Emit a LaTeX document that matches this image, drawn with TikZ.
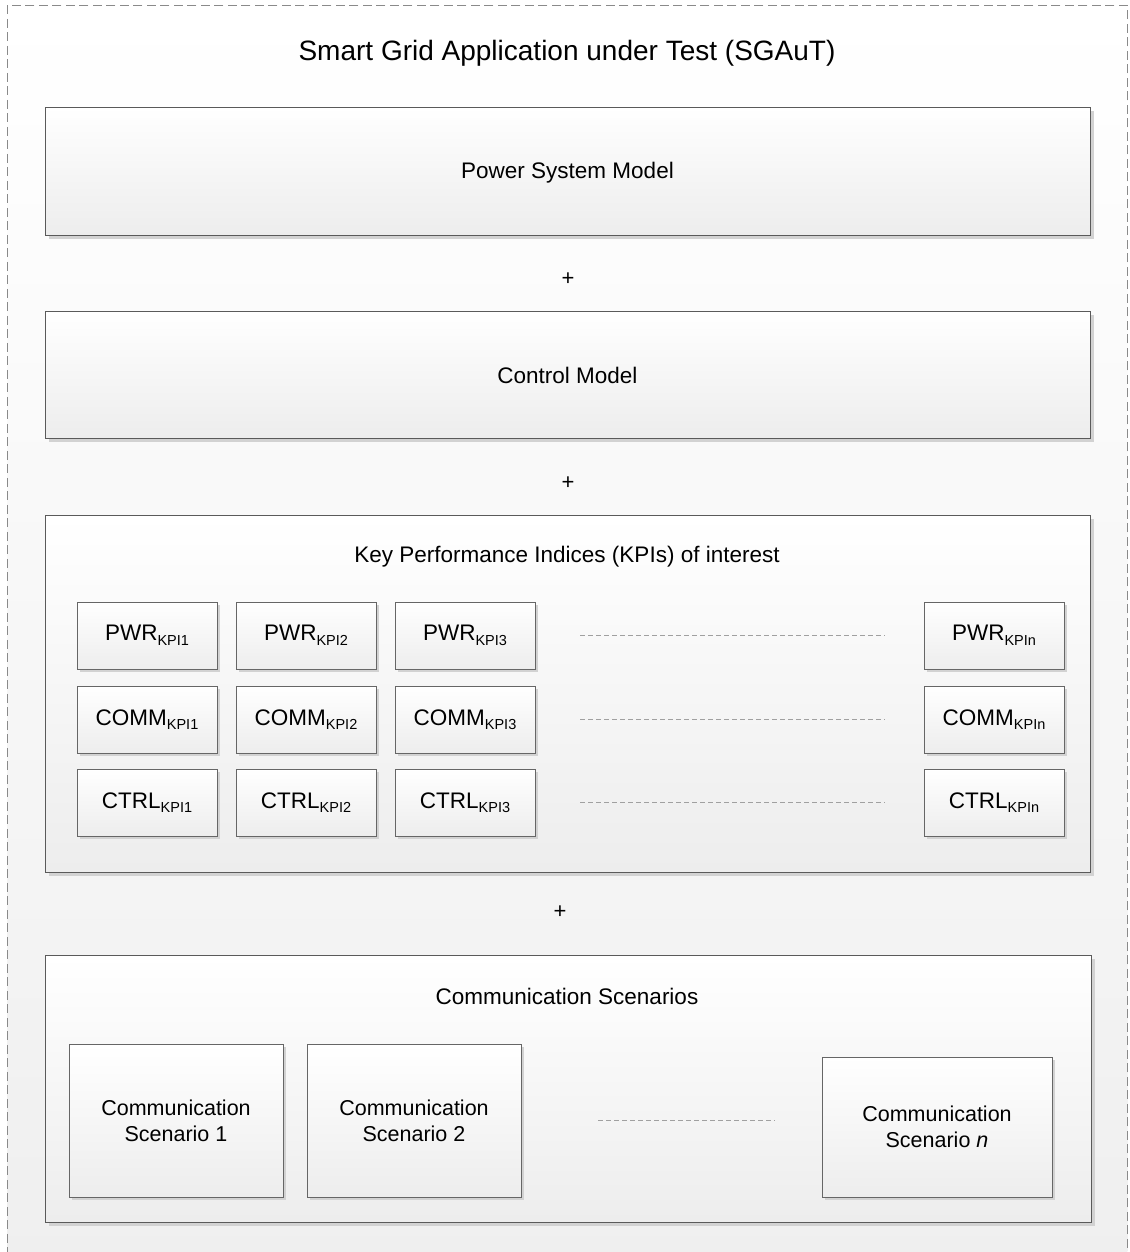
\documentclass[tikz,border=0pt]{standalone}
\usepackage{fontspec}
\setmainfont{Liberation Sans}
\usetikzlibrary{shadows}

\definecolor{boxline}{HTML}{5A5A5A}
\definecolor{kpiline}{HTML}{666666}
\definecolor{outerline}{HTML}{8A8A8A}
\definecolor{shadowgray}{HTML}{D2D2D2}
\definecolor{dotgray}{HTML}{A0A0A0}
\definecolor{fillbottom}{HTML}{EDEDED}
\definecolor{outerbottom}{HTML}{EFEFEF}

\newcommand{\kpi}[2]{#1\raisebox{-0.2em}{\fontsize{14.5}{16}\selectfont #2}}

\tikzset{
  every node/.style={font=\fontsize{22.5}{27}\selectfont, text=black},
  panel/.style={draw=boxline, line width=0.9pt, top color=white, bottom color=fillbottom,
    anchor=north west, inner sep=0pt, outer sep=0pt,
    drop shadow={shadow xshift=4pt, shadow yshift=-4pt, fill=shadowgray, opacity=1}},
  kpibox/.style={draw=kpiline, line width=0.8pt, top color=white, bottom color=fillbottom,
    anchor=north west, inner sep=0pt, outer sep=0pt,
    minimum width=140pt, minimum height=67pt,
    drop shadow={shadow xshift=3pt, shadow yshift=-3pt, fill=shadowgray, opacity=1}},
  scenbox/.style={kpibox, minimum width=214pt, minimum height=153pt, align=center,
    font=\fontsize{21.5}{26}\selectfont},
  ellipsis/.style={draw=dotgray, line width=0.6pt, dash pattern=on 5pt off 3pt},
  plus/.style={font=\fontsize{22}{26}\selectfont},
}

\begin{document}
\begin{tikzpicture}[x=1pt, y=-1pt]
  \useasboundingbox (0,0) rectangle (1129,1252);
  \clip (0,0) rectangle (1129,1252);

  % enclosing application frame
  \node[draw=outerline, line width=0.8pt, dash pattern=on 9pt off 4.5pt,
        top color=white, bottom color=outerbottom, anchor=north west,
        inner sep=0pt, minimum width=1120pt, minimum height=1270pt] (frame) at (7,5) {};
  \node[font=\fontsize{28}{32}\selectfont] (title) at (567,53) {Smart Grid Application under Test (SGAuT)};

  % power system model
  \node[panel, minimum width=1045pt, minimum height=128pt] (psm) at (45,107) {};
  \node (psmtext) at ([yshift=-2pt]psm.center) {Power System Model};
  \node[plus] (plus1) at (568,279) {+};

  % control model
  \node[panel, minimum width=1045pt, minimum height=127pt] (ctl) at (45,311) {};
  \node (ctltext) at ([yshift=-1pt]ctl.center) {Control Model};
  \node[plus] (plus2) at (568,483) {+};

  % key performance indices
  \node[panel, minimum width=1045pt, minimum height=357pt] (kpis) at (45,515) {};
  \node (kpititle) at (567,557) {Key Performance Indices (KPIs) of interest};

  \node[kpibox] (p1) at (77,602) {\kpi{PWR}{KPI1}};
  \node[kpibox] (p2) at (236,602) {\kpi{PWR}{KPI2}};
  \node[kpibox] (p3) at (395,602) {\kpi{PWR}{KPI3}};
  \node[kpibox] (pn) at (924,602) {\kpi{PWR}{KPIn}};

  \node[kpibox] (c1) at (77,686) {\kpi{COMM}{KPI1}};
  \node[kpibox] (c2) at (236,686) {\kpi{COMM}{KPI2}};
  \node[kpibox] (c3) at (395,686) {\kpi{COMM}{KPI3}};
  \node[kpibox] (cn) at (924,686) {\kpi{COMM}{KPIn}};

  \node[kpibox] (t1) at (77,769) {\kpi{CTRL}{KPI1}};
  \node[kpibox] (t2) at (236,769) {\kpi{CTRL}{KPI2}};
  \node[kpibox] (t3) at (395,769) {\kpi{CTRL}{KPI3}};
  \node[kpibox] (tn) at (924,769) {\kpi{CTRL}{KPIn}};

  \coordinate (pa) at (580,635);  \coordinate (pb) at (885,635);
  \coordinate (ca) at (580,719);  \coordinate (cb) at (885,719);
  \coordinate (ta) at (580,802);  \coordinate (tb) at (885,802);
  \draw[ellipsis] (pa) -- (pb);
  \draw[ellipsis] (ca) -- (cb);
  \draw[ellipsis] (ta) -- (tb);

  \node[plus] (plus3) at (560,912) {+};

  % communication scenarios
  \node[panel, minimum width=1046pt, minimum height=267pt] (comm) at (45,955) {};
  \node (commtitle) at (567,996) {Communication Scenarios};

  \node[scenbox] (s1) at (69,1044) {Communication\\Scenario 1};
  \node[scenbox] (s2) at (307,1044) {Communication\\Scenario 2};
  \node[scenbox, minimum width=230pt, minimum height=140pt] (sn) at (822,1057) {Communication\\Scenario \textit{n}};

  \coordinate (sa) at (598,1120);  \coordinate (sb) at (775,1120);
  \draw[ellipsis] (sa) -- (sb);
\end{tikzpicture}
\end{document}
